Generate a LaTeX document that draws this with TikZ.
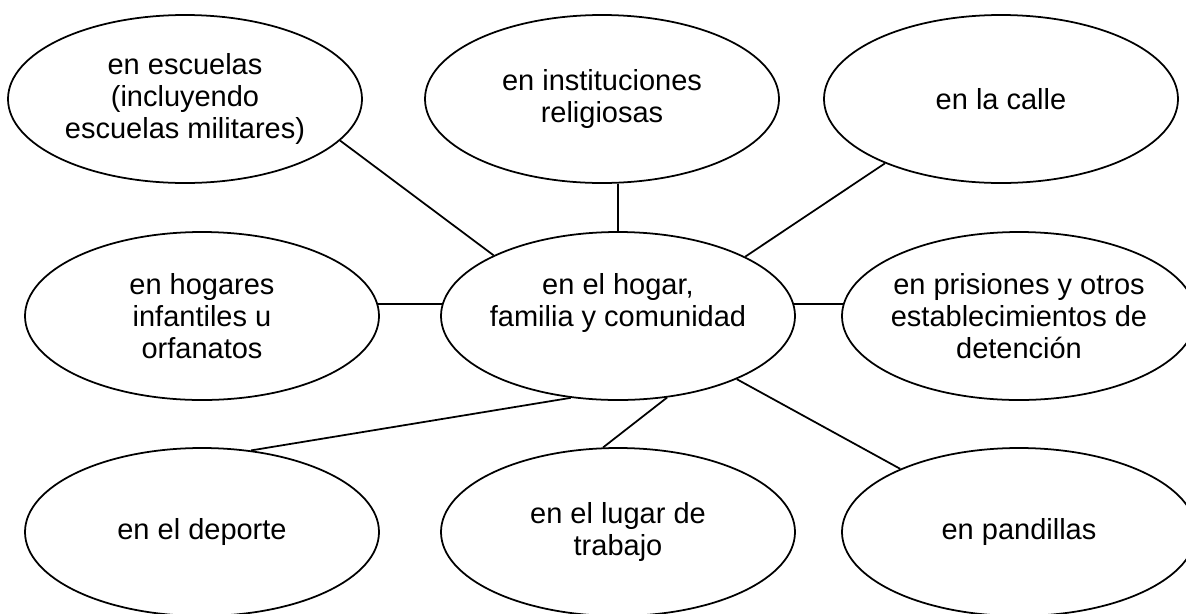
\documentclass[tikz,border=0pt]{standalone}
\usepackage{fontspec}
\setmainfont{Liberation Sans}
\usetikzlibrary{shapes.geometric}
\tikzset{
  place/.style={ellipse, draw, line width=1pt, minimum width=7.08cm, minimum height=3.36cm,
    inner xsep=-4pt, inner ysep=0pt, align=center, font=\fontsize{16.5}{18}\selectfont},
  link/.style={line width=1pt}
}
\begin{document}
\begin{tikzpicture}
\useasboundingbox (0,0) rectangle (23.72,-12.26);
% top row
\node[place] (schools) at (3.70,-1.98) {en escuelas\\(incluyendo\\escuelas militares)};
\node[place] (religious) at (12.04,-1.98) {en instituciones\\religiosas};
\node[place] (street) at (20.02,-1.98) {en la calle};
% middle row
\node[place] (orphans) at (4.04,-6.32) {en hogares\\infantiles u\\orfanatos};
\node[place] (home) at (12.36,-6.32) {en el hogar,\\familia y comunidad\\ \mbox{}};
\node[place] (prisons) at (20.38,-6.32) {en prisiones y otros\\establecimientos de\\detención};
% bottom row
\node[place] (sport) at (4.04,-10.64) {en el deporte};
\node[place] (work) at (12.36,-10.64) {en el lugar de\\trabajo};
\node[place] (gangs) at (20.38,-10.64) {en pandillas};
% links to the centre
\draw[link] (schools.-15.5) -- (home.154.5);
\draw[link] (home.north) -- (home.north |- religious.south);
\draw[link] (street.-151) -- (home.25.5);
\draw[link] (orphans.4.3) -- (orphans.4.3 -| home.175.7);
\draw[link] (home.4.3) -- (home.4.3 -| prisons.175.7);
\draw[link] (home.-120) -- (sport.59.3);
\draw[link] (home.-59.4) -- (work.100.2);
\draw[link] (home.-28) -- (gangs.152);
\end{tikzpicture}
\end{document}
